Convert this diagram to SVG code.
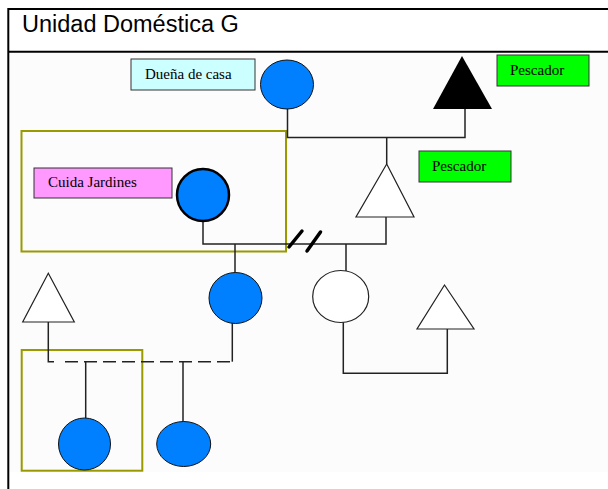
<svg xmlns="http://www.w3.org/2000/svg" width="608" height="489" viewBox="0 0 608 489">
<style>
.frame{stroke:#000;stroke-width:2;fill:none}
.line{stroke:#222;stroke-width:1.5;fill:none}
.dash{stroke:#222;stroke-width:1.5;fill:none;stroke-dasharray:13 6}
.slash{stroke:#000;stroke-width:3.5;stroke-linecap:round}
.blue{fill:#0080ff;stroke:#111;stroke-width:1}
.white{fill:#fff;stroke:#222;stroke-width:1.2}
.olive{fill:none;stroke:#999900;stroke-width:2}
.lbl{font-family:"Liberation Serif",serif;font-size:15px;fill:#000}
.box{stroke:#333;stroke-width:1}
</style>
<rect x="9" y="53" width="599" height="419" fill="#fcfcfc"/>
<g id="frame">
<line class="frame" x1="8.3" y1="9" x2="608" y2="9"/>
<line class="frame" x1="8.3" y1="51.7" x2="608" y2="51.7"/>
<line class="frame" x1="8.3" y1="8" x2="8.3" y2="489"/>
<text x="22" y="32.3" font-family="Liberation Sans, Arial, sans-serif" font-size="23.5" fill="#000">Unidad Doméstica G</text>
</g>
<g id="group-boxes">
<rect id="box-cuida" class="olive" x="21.5" y="131" width="264.5" height="120.5"/>
<rect id="box-child" class="olive" x="21.7" y="350" width="120.6" height="120.7"/>
</g>
<g id="connectors">
<path class="line" d="M287.5 109 V137.5 H465 V109"/>
<path class="line" d="M386.7 137.5 V164"/>
<path class="line" d="M386 217 V244 H203 V221"/>
<path class="line" d="M235 244 V273"/>
<path class="line" d="M346 244 V271"/>
<line class="slash" x1="289" y1="247" x2="302" y2="231"/>
<line class="slash" x1="307" y1="251" x2="320.5" y2="232"/>
<path class="line" d="M343.3 322 V373.3 H447.3 V329"/>
<path class="line" d="M48.3 322 V361.7 H54"/>
<path class="dash" d="M65 361.7 H232.3"/>
<path class="line" d="M232.3 361.7 V323"/>
<path class="line" d="M85.7 361.7 V418"/>
<path class="line" d="M183 361.7 V421.7"/>
</g>
<g id="duena">
<rect class="box" x="131" y="59" width="124" height="31" fill="#ccffff"/>
<text class="lbl" x="145" y="79">Dueña de casa</text>
<ellipse class="blue" cx="287" cy="84.5" rx="26.5" ry="24.5"/>
</g>
<g id="pescador1">
<polygon points="462,56 433,109 492,109" fill="#000"/>
<rect class="box" x="497" y="55" width="92" height="31" fill="#00ff00"/>
<text class="lbl" x="510" y="75">Pescador</text>
</g>
<g id="cuida">
<rect class="box" x="34" y="168" width="138" height="30" fill="#ff99ff"/>
<text class="lbl" x="48" y="187">Cuida Jardines</text>
<circle cx="203" cy="195" r="26" fill="#0080ff" stroke="#000" stroke-width="2.5"/>
</g>
<g id="pescador2">
<polygon class="white" points="386.7,164 356,217 414,217"/>
<rect class="box" x="419" y="151" width="92" height="31" fill="#00ff00"/>
<text class="lbl" x="432" y="171">Pescador</text>
</g>
<g id="daughter">
<ellipse class="blue" cx="235.5" cy="298" rx="26.5" ry="25.5"/>
</g>
<g id="female-white">
<ellipse class="white" cx="340.7" cy="296.5" rx="28" ry="26"/>
</g>
<g id="male-right">
<polygon class="white" points="444.5,285 417,329 474,329"/>
</g>
<g id="male-left">
<polygon class="white" points="48.3,273.3 22.7,322 74.3,322"/>
</g>
<g id="child1">
<ellipse class="blue" cx="84.5" cy="444" rx="26" ry="26"/>
</g>
<g id="child2">
<ellipse class="blue" cx="183.7" cy="444" rx="27" ry="22.5"/>
</g>
</svg>
